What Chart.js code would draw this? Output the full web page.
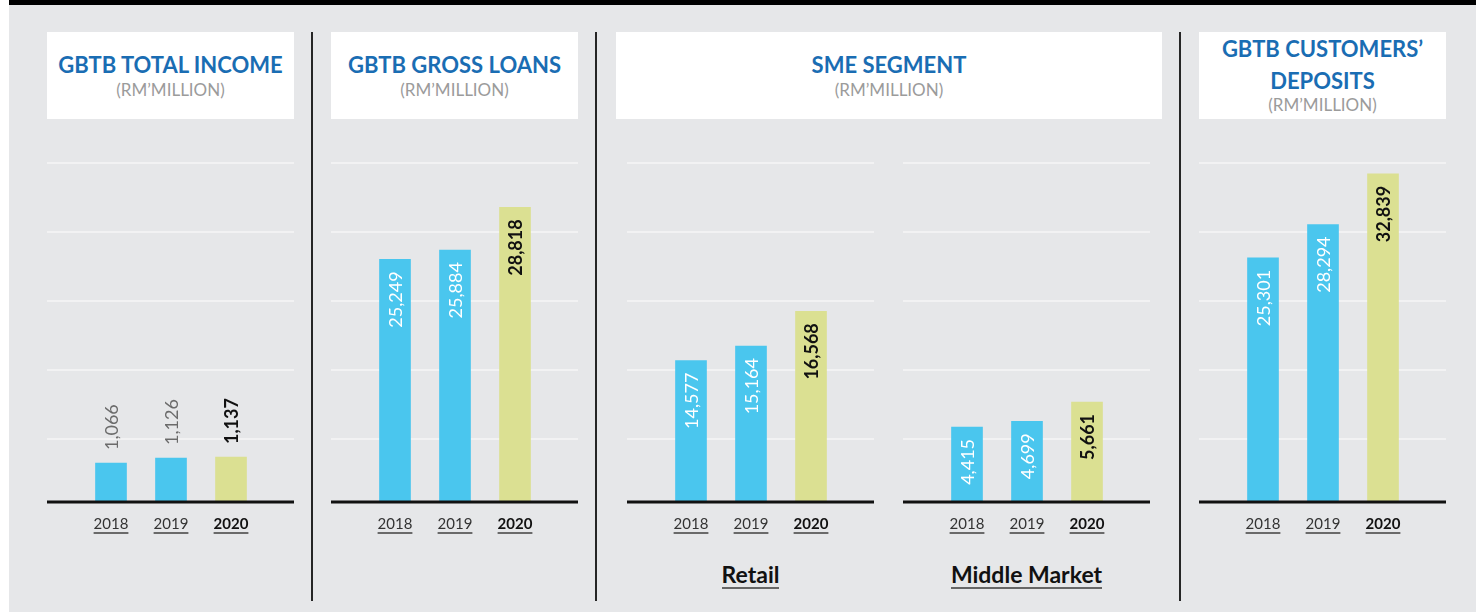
<!DOCTYPE html>
<html>
<head>
<meta charset="utf-8">
<script src="https://cdn.jsdelivr.net/npm/chart.js@4.4.1/dist/chart.umd.min.js"></script>
<style>
    body { margin: 0; width: 1476px; height: 613px; background: #fff; font-family: Lato, 'Open Sans', sans-serif; overflow: hidden; }
    #frame { position: absolute; left: 9px; top: 0; width: 1467px; height: 612px; background: #e6e7e9; border-top: 5px solid #000; box-sizing: border-box; }
    .box { position: absolute; top: 32px; height: 87px; background: #fff; }
    .line { position: absolute; left: 0; right: 0; text-align: center; white-space: nowrap; }
    .title { color: #1a6db3; font-weight: bold; font-size: 22px; line-height: 26px; }
    .sub { color: #9b9b9b; font-size: 17px; line-height: 20px; }
    .sep { position: absolute; top: 32px; width: 2px; height: 569px; background: #262626; }
    canvas { position: absolute; top: 150px; }
    .group { position: absolute; top: 561px; width: 247px; text-align: center; }
    .group span { display: inline-block; font-size: 23px; font-weight: bold; line-height: 26px; color: #111; border-bottom: 2px solid #666; }
</style>
</head>
<body>
<div id="frame"></div>

<div class="box" style="left:47px;width:247px">
    <div class="line title" style="top:20px">GBTB TOTAL INCOME</div>
    <div class="line sub" style="top:48px">(RM’MILLION)</div>
</div>
<div class="box" style="left:331px;width:247px">
    <div class="line title" style="top:20px">GBTB GROSS LOANS</div>
    <div class="line sub" style="top:48px">(RM’MILLION)</div>
</div>
<div class="box" style="left:616px;width:546px">
    <div class="line title" style="top:20px">SME SEGMENT</div>
    <div class="line sub" style="top:48px">(RM’MILLION)</div>
</div>
<div class="box" style="left:1199px;width:247px">
    <div class="line title" style="top:4px">GBTB CUSTOMERS’</div>
    <div class="line title" style="top:36px">DEPOSITS</div>
    <div class="line sub" style="top:63px">(RM’MILLION)</div>
</div>

<div class="sep" style="left:311px"></div>
<div class="sep" style="left:595px"></div>
<div class="sep" style="left:1179px"></div>

<canvas id="income" width="247" height="400" style="left:47px"></canvas>
<canvas id="loans" width="247" height="400" style="left:331px"></canvas>
<canvas id="retail" width="247" height="400" style="left:627px"></canvas>
<canvas id="middle" width="247" height="400" style="left:903px"></canvas>
<canvas id="deposits" width="247" height="400" style="left:1199px"></canvas>

<div class="group" style="left:627px"><span>Retail</span></div>
<div class="group" style="left:903px"><span>Middle Market</span></div>

<script>
const years = ['2018', '2019', '2020'];
const totalIncome = [1066, 1126, 1137];
const grossLoans = [25249, 25884, 28818];
const smeRetail = [14577, 15164, 16568];
const smeMiddleMarket = [4415, 4699, 5661];
const customerDeposits = [25301, 28294, 32839];

const BLUE = '#4ac6ee';
const LIME = '#dbe092';

// white guide lines + black baseline + rotated value labels + underlined years
const panelPlugin = {
    id: 'panel',
    beforeDatasetsDraw(chart) {
        const { ctx, chartArea } = chart;
        ctx.save();
        ctx.strokeStyle = '#f6f6f6';
        ctx.lineWidth = 1.5;
        for (let k = 0; k < 5; k++) {
            const y = chartArea.top + k * 69;
            ctx.beginPath();
            ctx.moveTo(0, y);
            ctx.lineTo(chart.width, y);
            ctx.stroke();
        }
        ctx.restore();
    },
    afterDatasetsDraw(chart) {
        const { ctx, chartArea } = chart;
        const outside = chart.options.plugins.panel.outside;
        ctx.save();
        ctx.strokeStyle = '#111';
        ctx.lineWidth = 3;
        ctx.beginPath();
        ctx.moveTo(0, chartArea.bottom);
        ctx.lineTo(chart.width, chartArea.bottom);
        ctx.stroke();

        const meta = chart.getDatasetMeta(0);
        const values = chart.data.datasets[0].data;
        meta.data.forEach((bar, i) => {
            const last = i === values.length - 1;
            const text = values[i].toLocaleString('en-US');
            ctx.save();
            ctx.translate(bar.x, bar.y);
            ctx.rotate(-Math.PI / 2);
            ctx.font = (last ? 'bold ' : '') + '18px Lato';
            ctx.textBaseline = 'middle';
            if (outside) {
                ctx.fillStyle = last ? '#111' : '#6b6b6b';
                ctx.textAlign = 'left';
                ctx.fillText(text, 13, 1);
            } else {
                ctx.fillStyle = last ? '#111' : '#fff';
                ctx.textAlign = 'right';
                ctx.fillText(text, -12, 1);
            }
            ctx.restore();
        });

        const xScale = chart.scales.x;
        chart.data.labels.forEach((label, i) => {
            const last = i === chart.data.labels.length - 1;
            const x = xScale.getPixelForValue(i);
            ctx.font = (last ? 'bold ' : '') + '15px Lato';
            ctx.fillStyle = last ? '#111' : '#333';
            ctx.textAlign = 'center';
            ctx.textBaseline = 'alphabetic';
            ctx.fillText(label, x, chartArea.bottom + 27);
            const w = ctx.measureText(label).width;
            ctx.strokeStyle = '#6a6a6a';
            ctx.lineWidth = 2;
            ctx.beginPath();
            ctx.moveTo(x - w / 2, chartArea.bottom + 31);
            ctx.lineTo(x + w / 2, chartArea.bottom + 31);
            ctx.stroke();
        });
        ctx.restore();
    }
};

function makePanel(id, values, yMin, yMax, outside) {
    const ctx = document.getElementById(id).getContext('2d');
    return new Chart(ctx, {
        type: 'bar',
        data: {
            labels: years,
            datasets: [
                {
                    data: values,
                    backgroundColor: years.map((y, i) => i === years.length - 1 ? LIME : BLUE),
                    borderWidth: 0,
                    barThickness: 31
                }
            ]
        },
        options: {
            responsive: false,
            animation: false,
            layout: {
                padding: { top: 13, bottom: 48, left: 34, right: 33 }
            },
            plugins: {
                legend: { display: false },
                tooltip: { enabled: false },
                panel: { outside: outside }
            },
            scales: {
                x: { display: false },
                y: { display: false, min: yMin, max: yMax }
            }
        },
        plugins: [panelPlugin]
    });
}

makePanel('income', totalIncome, 605, 4616, true);
makePanel('loans', grossLoans, 8600, 31860, false);
makePanel('retail', smeRetail, 8880, 22540, false);
makePanel('middle', smeMiddleMarket, 680, 17560, false);
makePanel('deposits', customerDeposits, 3400, 33810, false);
</script>
</body>
</html>
